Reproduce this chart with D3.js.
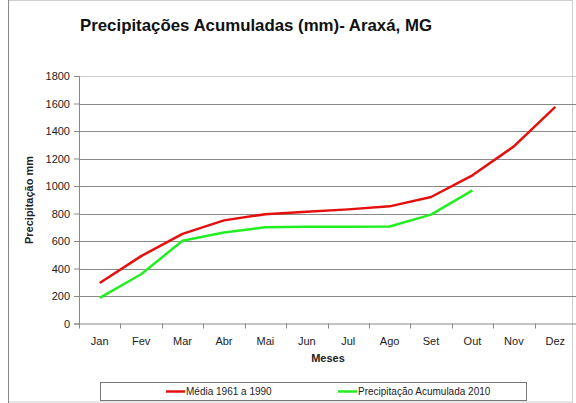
<!DOCTYPE html>
<html lang="pt">
<head>
<meta charset="UTF-8">
<title>Precipitações Acumuladas</title>
<script src="https://d3js.org/d3.v7.min.js"></script>
<style>
  body { margin: 0; background: #fff; }
  svg { display: block; font-family: "Liberation Sans", Arial, sans-serif; }
  .tick text { font-size: 11px; fill: #222; }
</style>
</head>
<body>
<script>
const months = ["Jan", "Fev", "Mar", "Abr", "Mai", "Jun", "Jul", "Ago", "Set", "Out", "Nov", "Dez"];
const media = [295, 490, 652, 750, 795, 812, 830, 852, 920, 1078, 1288, 1575];
const acum2010 = [186, 358, 602, 662, 700, 703, 704, 705, 792, 968];
const yTicks = [0, 200, 400, 600, 800, 1000, 1200, 1400, 1600, 1800];
const seriesNames = ["Média 1961 a 1990", "Precipitação Acumulada 2010"];
const colors = ["#e41010", "#22ee22"];

const width = 576, height = 403;
const margin = { left: 79, right: 0, top: 76, bottom: 80 };
const plotW = 576 - margin.left;
const plotH = 323.5 - margin.top;

const svg = d3.select("body").append("svg")
  .attr("width", width)
  .attr("height", height);

// chart border
svg.append("rect")
  .attr("x", 8.5).attr("y", 0.5)
  .attr("width", 564).attr("height", 401.5)
  .attr("fill", "none").attr("stroke", "#cfcfcf");
svg.append("line")
  .attr("x1", 8.5).attr("x2", 8.5).attr("y1", 0).attr("y2", 403)
  .attr("stroke", "#888");

svg.append("text")
  .attr("x", 80).attr("y", 31)
  .attr("font-size", 17).attr("font-weight", "bold")
  .attr("textLength", 352).attr("lengthAdjust", "spacingAndGlyphs")
  .attr("fill", "#111")
  .text("Precipitações Acumuladas (mm)- Araxá, MG");

const g = svg.append("g").attr("transform", `translate(${margin.left},${margin.top})`);

const x = d3.scaleBand().domain(months).range([0, plotW]);
const y = d3.scaleLinear().domain([0, 1800]).range([plotH, 0]);

// gridlines
g.append("g")
  .selectAll("line")
  .data(yTicks.filter(d => d > 0))
  .join("line")
  .attr("x1", 0).attr("x2", plotW)
  .attr("y1", d => Math.round(y(d)) + 0.5).attr("y2", d => Math.round(y(d)) + 0.5)
  .attr("stroke", d => d === 1800 ? "#cccccc" : "#8a8a8a");

// y axis
const yAxis = g.append("g")
  .call(d3.axisLeft(y).tickValues(yTicks).tickSize(5).tickPadding(4).tickFormat(d3.format("d")));
yAxis.select(".domain").attr("stroke", "#888");
yAxis.selectAll(".tick line").attr("stroke", "#888");

// x axis with ticks at band edges
const xAxis = g.append("g").attr("transform", `translate(0,${plotH})`);
xAxis.append("line")
  .attr("x1", 0).attr("x2", plotW).attr("y1", 0.5).attr("y2", 0.5)
  .attr("stroke", "#888");
xAxis.selectAll(".xt")
  .data(months)
  .join("line")
  .attr("class", "xt")
  .attr("x1", d => Math.round(x(d)) + 0.5).attr("x2", d => Math.round(x(d)) + 0.5)
  .attr("y1", 0).attr("y2", 5)
  .attr("stroke", "#888");
xAxis.selectAll(".xl")
  .data(months)
  .join("text")
  .attr("class", "xl")
  .attr("x", d => x(d) + x.bandwidth() / 2)
  .attr("y", 21)
  .attr("text-anchor", "middle")
  .attr("font-size", 11).attr("fill", "#222")
  .text(d => d);

svg.append("text")
  .attr("x", 328).attr("y", 362)
  .attr("text-anchor", "middle")
  .attr("font-size", 11).attr("font-weight", "bold").attr("fill", "#222")
  .text("Meses");

svg.append("text")
  .attr("transform", "translate(33,200) rotate(-90)")
  .attr("text-anchor", "middle")
  .attr("font-size", 11).attr("font-weight", "bold").attr("fill", "#222")
  .text("Precipitação mm");

const line = d3.line()
  .x((d, i) => x(months[i]) + x.bandwidth() / 2)
  .y(d => y(d));

[media, acum2010].forEach((s, k) => {
  g.append("path")
    .datum(s)
    .attr("fill", "none")
    .attr("stroke", colors[k])
    .attr("stroke-width", 2.5)
    .attr("stroke-linejoin", "round")
    .attr("d", line);
});

// legend
const legend = svg.append("g");
legend.append("rect")
  .attr("x", 100.5).attr("y", 382.5)
  .attr("width", 426).attr("height", 18)
  .attr("fill", "#fff").attr("stroke", "#777");
const legX = [166, 338];
seriesNames.forEach((name, k) => {
  legend.append("line")
    .attr("x1", legX[k]).attr("x2", legX[k] + 19)
    .attr("y1", 391.5).attr("y2", 391.5)
    .attr("stroke", colors[k]).attr("stroke-width", 2.5);
  legend.append("text")
    .attr("x", legX[k] + 20).attr("y", 395)
    .attr("font-size", 10).attr("fill", "#222")
    .text(name);
});
</script>
</body>
</html>
